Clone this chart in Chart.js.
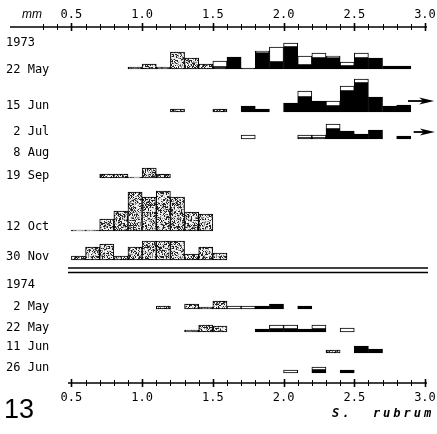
<!DOCTYPE html>
<html><head><meta charset="utf-8">
<script src="https://cdn.jsdelivr.net/npm/chart.js@4.4.1/dist/chart.umd.min.js"></script>
<style>html,body{margin:0;padding:0;background:#fff}#wrap{position:relative;width:437px;height:434px}</style>
</head><body><div id="wrap"><canvas id="c"></canvas></div>
<script>
const _ = null;
// length classes (left edges, mm), 0.1 mm wide
const binStarts = [0.5,0.6,0.7,0.8,0.9,1.0,1.1,1.2,1.3,1.4,1.5,1.6,1.7,1.8,1.9,2.0,2.1,2.2,2.3,2.4,2.5,2.6,2.7,2.8];
const tickValues = [0.5,1.0,1.5,2.0,2.5,3.0];
const tickLabels = ['0.5','1.0','1.5','2.0','2.5','3.0'];
const rowLabels = ['22 May','15 Jun',' 2 Jul',' 8 Aug','19 Sep','12 Oct','30 Nov',' 2 May','22 May','11 Jun','26 Jun'];
const yearLabels = ['1973','1974'];

// frequencies per class: stippled / black / white (stacked)
const may22_1973_stip  = [_,_,_,_,2,5,2,17,11,5,_,_,_,_,_,_,_,_,_,_,_,_,_,_];
const may22_1973_black = [_,_,_,_,_,_,_,_,_,_,2,12,1,16,7,22,4,11,11,3,11,11,3,3];
const may22_1973_white = [_,_,_,_,_,_,_,_,_,_,6,_,_,2,15,4,9,5,2,4,5,_,_,_];
const jun15_1973_stip  = [_,_,_,_,_,_,_,3,_,_,3,_,_,_,_,_,_,_,_,_,_,_,_,_];
const jun15_1973_black = [_,_,_,_,_,_,_,_,_,_,_,_,6,3,_,9,15,11,6,21,29,15,6,7];
const jun15_1973_white = [_,_,_,_,_,_,_,_,_,_,_,_,_,_,_,_,6,_,5,5,4,_,_,_];
const jul2_1973_black  = [_,_,_,_,_,_,_,_,_,_,_,_,_,_,_,_,1,1,10,8,5,9,_,3];
const jul2_1973_white  = [_,_,_,_,_,_,_,_,_,_,_,_,4,_,_,_,3,3,5,_,_,_,_,_];
const sep19_1973_stip  = [_,_,4,4,1,10,4,_,_,_,_,_,_,_,_,_,_,_,_,_,_,_,_,_];
const oct12_1973_stip  = [1,1,12,20,39,34,40,34,19,17,_,_,_,_,_,_,_,_,_,_,_,_,_,_];
const nov30_1973_stip  = [4,13,16,4,13,19,19,19,6,13,7,_,_,_,_,_,_,_,_,_,_,_,_,_];
const may2_1974_stip   = [_,_,_,_,_,_,3,_,5,2,8,_,_,_,_,_,_,_,_,_,_,_,_,_];
const may2_1974_black  = [_,_,_,_,_,_,_,_,_,_,_,_,_,3,5,_,3,_,_,_,_,_,_,_];
const may2_1974_white  = [_,_,_,_,_,_,_,_,_,_,_,3,3,_,_,_,_,_,_,_,_,_,_,_];
const may22_1974_stip  = [_,_,_,_,_,_,_,_,2,7,6,_,_,_,_,_,_,_,_,_,_,_,_,_];
const may22_1974_black = [_,_,_,_,_,_,_,_,_,_,_,_,_,3,3,3,3,3,_,_,_,_,_,_];
const may22_1974_white = [_,_,_,_,_,_,_,_,_,_,_,_,_,_,4,4,_,4,_,4,_,_,_,_];
const jun11_1974_stip  = [_,_,_,_,_,_,_,_,_,_,_,_,_,_,_,_,_,_,3,_,_,_,_,_];
const jun11_1974_black = [_,_,_,_,_,_,_,_,_,_,_,_,_,_,_,_,_,_,_,_,7,4,_,_];
const jun26_1974_black = [_,_,_,_,_,_,_,_,_,_,_,_,_,_,_,_,_,3,_,3,_,_,_,_];
const jun26_1974_white = [_,_,_,_,_,_,_,_,_,_,_,_,_,_,_,3,_,3,_,_,_,_,_,_];

const rowData = [
  [may22_1973_stip, may22_1973_black, may22_1973_white],
  [jun15_1973_stip, jun15_1973_black, jun15_1973_white],
  [null, jul2_1973_black, jul2_1973_white],
  [null, null, null],
  [sep19_1973_stip, null, null],
  [oct12_1973_stip, null, null],
  [nov30_1973_stip, null, null],
  [may2_1974_stip, may2_1974_black, may2_1974_white],
  [may22_1974_stip, may22_1974_black, may22_1974_white],
  [jun11_1974_stip, jun11_1974_black, null],
  [null, jun26_1974_black, jun26_1974_white]
];
// "continues beyond 3.0 mm" arrows: [row, from mm, to mm, level]
const arrowRows = [[1, 2.88, 3.065, 11], [2, 2.92, 3.07, 7]];

// ---- layout (pixels) ----
const H = 434;
const rowBase = [69,112,139,160,178,231,260,309,332,353,373];
const rowLabelY = [70,106,132,153,176,227,257,307,328,347,368];
const yearLabelY = [43,285];

// stipple pattern (fixed-seed speckle texture)
const cv = document.getElementById('c');
const T = 64;
const pc = document.createElement('canvas'); pc.width = T; pc.height = T;
const pctx = pc.getContext('2d');
pctx.fillStyle = '#e4e4e4'; pctx.fillRect(0,0,T,T);
function mulberry32(a){return function(){a|=0;a=a+0x6D2B79F5|0;let t=Math.imul(a^a>>>15,1|a);t=t+Math.imul(t^t>>>7,61|t)^t;return((t^t>>>14)>>>0)/4294967296;};}
const rnd = mulberry32(20240611);
for (let yy = 0; yy < T; yy++) for (let xx = 0; xx < T; xx++) {
  const r = rnd();
  if (r < 0.28) { pctx.fillStyle = '#222'; pctx.fillRect(xx, yy, 1, 1); }
  else if (r < 0.48) { pctx.fillStyle = '#8a8a8a'; pctx.fillRect(xx, yy, 1, 1); }
  else if (r < 0.62) { pctx.fillStyle = '#fff'; pctx.fillRect(xx, yy, 1, 1); }
}
const stipple = cv.getContext('2d').createPattern(pc, 'repeat');
const fills = [stipple, '#000', '#fff'];

const binCenters = binStarts.map(b => Math.round((b + 0.05) * 1000) / 1000);
const datasets = [];
const scales = {
  x: {type: 'linear', min: -0.005, max: 3.085, offset: false, display: false, stacked: true, ticks: {stepSize: 0.5}}
};
rowData.forEach((sets, r) => {
  scales['y' + r] = {type: 'linear', display: false, stacked: true, min: rowBase[r] - H, max: rowBase[r]};
  sets.forEach((arr, t) => {
    if (!arr) return;
    datasets.push({
      type: 'bar', yAxisID: 'y' + r, xAxisID: 'x',
      data: binCenters.map((x, i) => ({x: x, y: arr[i]})),
      backgroundColor: fills[t], borderColor: '#000', borderWidth: 1, borderSkipped: false,
      grouped: false, barPercentage: 1, categoryPercentage: 1
    });
  });
});

const deco = {
  id: 'deco',
  afterDatasetsDraw(chart) {
    const ctx = chart.ctx, xs = chart.scales.x;
    const X = v => xs.getPixelForValue(v);
    ctx.save();
    ctx.strokeStyle = '#000'; ctx.fillStyle = '#000';
    const axis = (y, x0, kStart) => {
      ctx.lineWidth = 1.6;
      ctx.beginPath(); ctx.moveTo(x0, y); ctx.lineTo(X(3.0) + 2, y); ctx.stroke();
      for (let k = kStart; k <= 30; k++) {
        const major = k % 5 === 0;
        const px = Math.round(X(k / 10)) + 0.5;
        ctx.lineWidth = major ? 1.6 : 1;
        ctx.beginPath(); ctx.moveTo(px, y - (major ? 4 : 3)); ctx.lineTo(px, y + (major ? 4 : 3)); ctx.stroke();
      }
    };
    axis(27, 10, 3);
    axis(383, 68, 5);
    ctx.font = '12px "DejaVu Sans Mono"';
    ctx.textAlign = 'center'; ctx.textBaseline = 'middle';
    tickValues.forEach((v, i) => {
      ctx.fillText(tickLabels[i], X(v), 15);
      ctx.fillText(tickLabels[i], X(v), 398);
    });
    ctx.font = 'italic 12px "Liberation Sans"';
    ctx.fillText('mm', 32, 15);
    ctx.lineWidth = 1.5;
    [268, 272.5].forEach(y => { ctx.beginPath(); ctx.moveTo(68, y); ctx.lineTo(428, y); ctx.stroke(); });
    arrowRows.forEach(([r, a, b, lvl]) => {
      const y = chart.scales['y' + r].getPixelForValue(lvl);
      const x0 = X(a), x1 = X(b);
      ctx.lineWidth = 1.8;
      ctx.beginPath(); ctx.moveTo(x0, y); ctx.lineTo(x1 - 8, y); ctx.stroke();
      ctx.beginPath(); ctx.moveTo(x1, y); ctx.lineTo(x1 - 15, y - 3.5); ctx.lineTo(x1 - 11, y); ctx.lineTo(x1 - 15, y + 3.5); ctx.closePath(); ctx.fill();
    });
    ctx.textAlign = 'left';
    ctx.font = '12px "DejaVu Sans Mono"';
    rowLabels.forEach((s, i) => ctx.fillText(s, 6, rowLabelY[i]));
    yearLabels.forEach((s, i) => ctx.fillText(s, 6, yearLabelY[i]));
    ctx.font = '27px "Liberation Sans"';
    ctx.fillText('13', 4, 411);
    ctx.font = 'bold italic 12px "DejaVu Sans Mono"';
    ctx.letterSpacing = '3px';
    ctx.fillText('S.  rubrum', 332, 414);
    ctx.restore();
  }
};

new Chart(cv, {
  data: {datasets},
  options: {
    responsive: true, maintainAspectRatio: false, animation: false,
    layout: {padding: 0},
    plugins: {legend: {display: false}, tooltip: {enabled: false}},
    scales
  },
  plugins: [deco]
});
</script></body></html>
